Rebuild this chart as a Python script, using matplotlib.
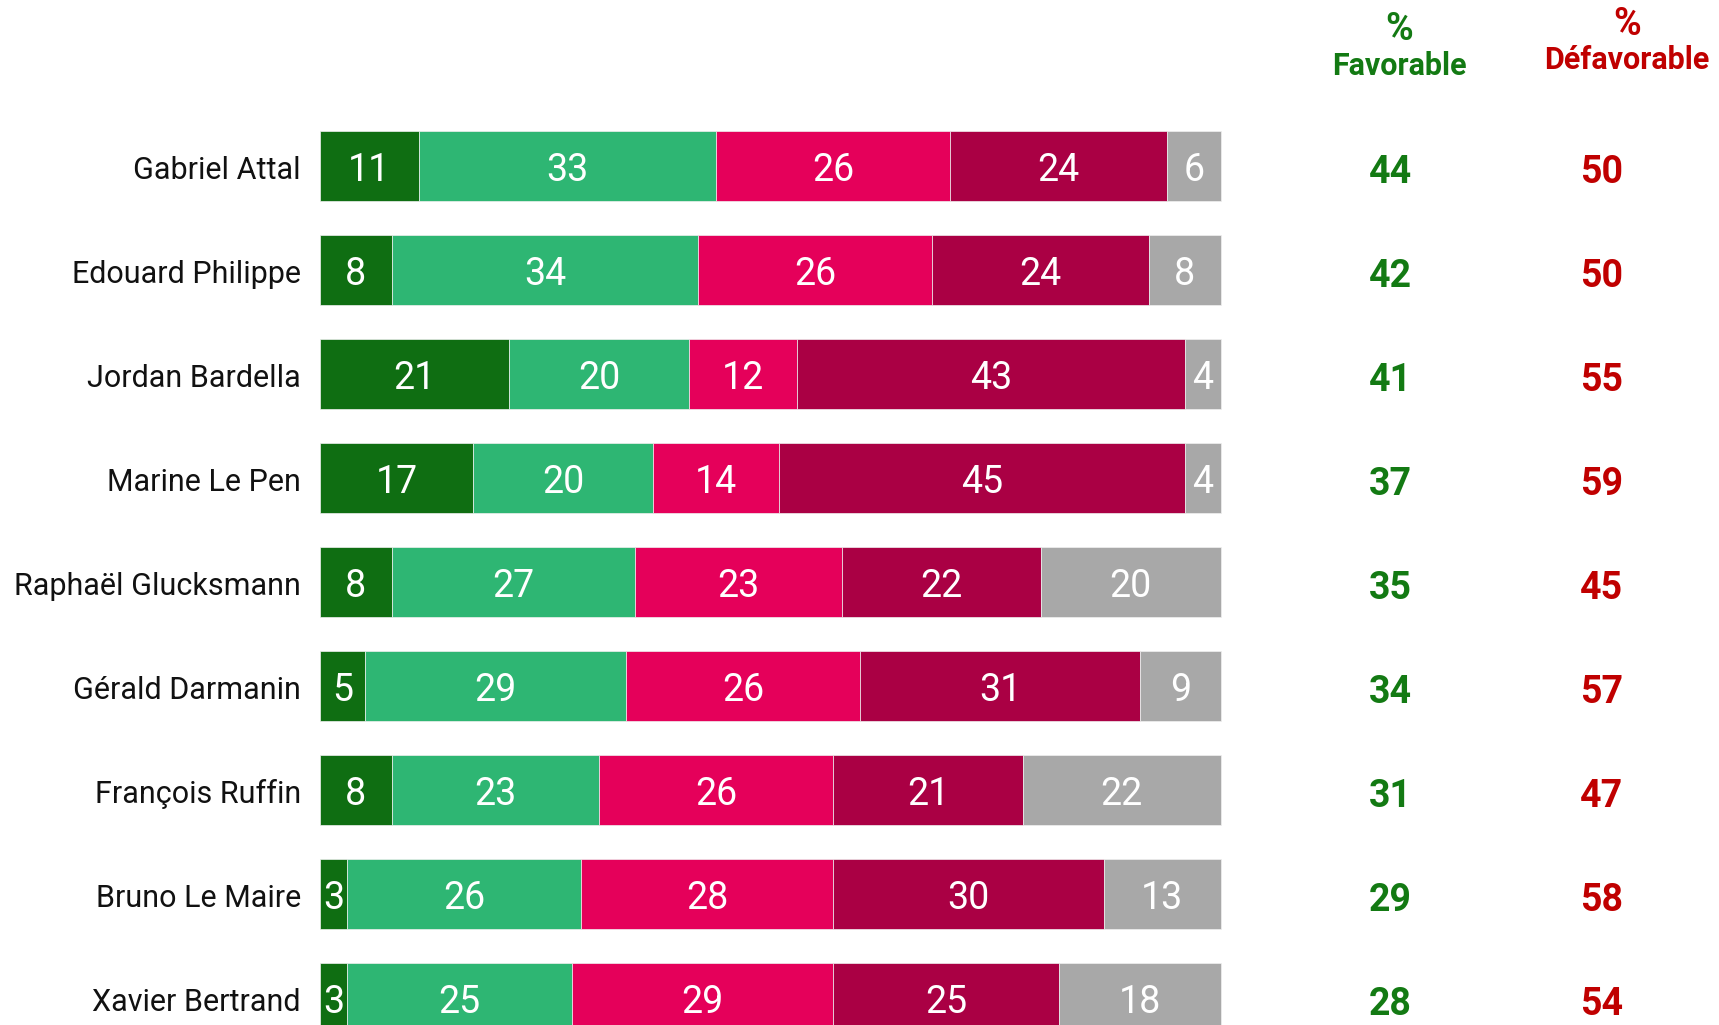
import matplotlib.pyplot as plt
import numpy as np

names = ["Gabriel Attal", "Edouard Philippe", "Jordan Bardella", "Marine Le Pen",
         "Raphaël Glucksmann", "Gérald Darmanin", "François Ruffin",
         "Bruno Le Maire", "Xavier Bertrand"]
tres_fav = [11, 8, 21, 17, 8, 5, 8, 3, 3]
plutot_fav = [33, 34, 20, 20, 27, 29, 23, 26, 25]
plutot_defav = [26, 26, 12, 14, 23, 26, 26, 28, 29]
tres_defav = [24, 24, 43, 45, 22, 31, 21, 30, 25]
nsp = [6, 8, 4, 4, 20, 9, 22, 13, 18]
favorable = [44, 42, 41, 37, 35, 34, 31, 29, 28]
defavorable = [50, 50, 55, 59, 45, 57, 47, 58, 54]

colors = ["#0F6E12", "#2EB673", "#E5005A", "#AA0044", "#A8A8A8"]
green_txt = "#137A13"
red_txt = "#C00000"

plt.rcParams['font.family'] = ['Roboto', 'DejaVu Sans']

fig = plt.figure(figsize=(17.19, 10.25), dpi=100)
ax = fig.add_axes([0, 0, 1, 1])
ax.set_xlim(-35.5, 155.3)
ax.set_ylim(8.26, -1.596)
ax.axis("off")

y = np.arange(len(names))
series = [tres_fav, plutot_fav, plutot_defav, tres_defav, nsp]
left = np.zeros(len(names))
for vals, c in zip(series, colors):
    vals = np.array(vals)
    ax.barh(y, vals, left=left, height=0.68, color=c, edgecolor="#f0f0f0", linewidth=0.5)
    for yi, l, v in zip(y, left, vals):
        ax.text(l + v / 2, yi + 0.04, str(v), ha="center", va="center", color="white", fontsize=27)
    left += vals

for yi, n in zip(y, names):
    ax.text(-2.1, yi + 0.04, n, ha="right", va="center", fontsize=22, color="#111111")

for yi, f, d in zip(y, favorable, defavorable):
    ax.text(118.8, yi + 0.06, str(f), ha="center", va="center", fontsize=27, fontweight="bold", color=green_txt)
    ax.text(142.3, yi + 0.06, str(d), ha="center", va="center", fontsize=27, fontweight="bold", color=red_txt)

ax.text(119.8, -1.31, "%", ha="center", va="center", fontsize=27, fontweight="bold", color=green_txt)
ax.text(119.8, -0.96, "Favorable", ha="center", va="center", fontsize=22, fontweight="bold", color=green_txt)
ax.text(145.1, -1.36, "%", ha="center", va="center", fontsize=27, fontweight="bold", color=red_txt)
ax.text(145.1, -1.02, "Défavorable", ha="center", va="center", fontsize=22, fontweight="bold", color=red_txt)

fig.savefig("out.png", dpi=100)
